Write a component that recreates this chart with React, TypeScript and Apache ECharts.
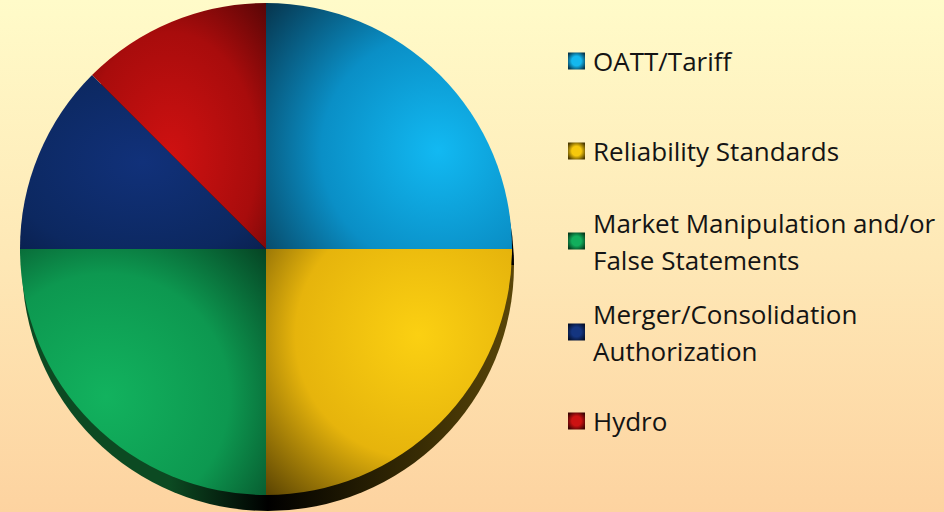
import React, { useEffect, useRef } from 'react';
import * as echarts from 'echarts';

const categories = [
  'OATT/Tariff',
  'Reliability Standards',
  'Market Manipulation and/or False Statements',
  'Merger/Consolidation Authorization',
  'Hydro',
];
const legendLines = [
  ['OATT/Tariff'],
  ['Reliability Standards'],
  ['Market Manipulation and/or', 'False Statements'],
  ['Merger/Consolidation', 'Authorization'],
  ['Hydro'],
];
const values = [4, 4, 4, 2, 2];

// face gradients: [cx, cy, r, bright, mid, dark]
const faceGrad: [number, number, number, string, string, string][] = [
  [0.7, 0.6, 0.95, '#12b9f2', '#0a8fc6', '#062f45'],
  [0.62, 0.35, 1.0, '#fbd012', '#e6b40c', '#362600'],
  [0.35, 0.6, 1.0, '#12b25e', '#0d9850', '#032a16'],
  [0.5, 0.5, 1.1, '#11317a', '#0c2860', '#040f2a'],
  [0.45, 0.62, 1.0, '#cf1111', '#a80c0c', '#300303'],
];
const iconColors = [
  ['#14b8ee', '#06354c'],
  ['#f6c80c', '#4a3800'],
  ['#12ae5c', '#053a1c'],
  ['#143580', '#040f2a'],
  ['#cc1212', '#3a0303'],
];
const rimColors = ['#05344c', '#5a4608', '#0c4a22', '#061538', '#3a0404'];
const iconCenters = [61, 151, 241, 332, 421];

const LINE_H = 37;

export default function App() {
  const ref = useRef<HTMLDivElement>(null);
  useEffect(() => {
    if (!ref.current) return;
    const chart = echarts.init(ref.current, undefined, { renderer: 'svg' });
    const faceColors = faceGrad.map(([x, y, r, a, b, c]) => ({
      type: 'radial', x, y, r, global: false,
      colorStops: [
        { offset: 0, color: a },
        { offset: 0.5, color: b },
        { offset: 1, color: c },
      ],
    }));
    const rimGrad = rimColors.map((c, i) => ({
      type: 'linear', x: 0, y: 0, x2: 1, y2: 0, global: false,
      colorStops: i === 1
        ? [{ offset: 0, color: '#000000' }, { offset: 0.5, color: '#2e2403' }, { offset: 1, color: c }]
        : [{ offset: 0, color: c }, { offset: 0.6, color: c }, { offset: 1, color: '#000000' }],
    }));
    const legends = categories.map((name, i) => {
      const lines = legendLines[i];
      const extra = (lines.length - 1) * LINE_H;
      const half = (lines.length * LINE_H + extra) / 2;
      return {
        data: [
          {
            name,
            itemStyle: {
              color: {
                type: 'radial', x: 0.5, y: 0.5, r: 0.62, global: false,
                colorStops: [
                  { offset: 0, color: iconColors[i][0] },
                  { offset: 0.45, color: iconColors[i][0] },
                  { offset: 1, color: iconColors[i][1] },
                ],
              },
            },
          },
        ],
        left: 568,
        top: iconCenters[i] - half,
        orient: 'vertical',
        padding: 0,
        itemWidth: 17,
        itemHeight: 17,
        icon: 'rect',
        selectedMode: false,
        formatter: () => lines.join('\n'),
        textStyle: {
          fontFamily: 'Open Sans',
          fontSize: 26,
          color: '#141414',
          lineHeight: LINE_H,
          padding: [extra, 0, 0, 3],
        },
      };
    });
    chart.setOption({
      animation: false,
      backgroundColor: 'transparent',
      legend: legends,
      series: [
        {
          type: 'pie',
          z: 3,
          center: [266, 249],
          radius: 246,
          startAngle: 90,
          clockwise: true,
          label: { show: false },
          labelLine: { show: false },
          emphasis: { scale: false },
          itemStyle: { borderWidth: 0 },
          data: categories.map((name, i) => ({
            name,
            value: values[i],
            itemStyle: { color: faceColors[i] },
          })),
        },
        {
          type: 'pie',
          z: 1,
          silent: true,
          legendHoverLink: false,
          center: [268, 265],
          radius: 246,
          startAngle: 90,
          clockwise: true,
          label: { show: false },
          labelLine: { show: false },
          emphasis: { disabled: true },
          itemStyle: { borderWidth: 0 },
          data: categories.map((name, i) => ({
            name,
            value: values[i],
            itemStyle: { color: rimGrad[i] },
          })),
        },
      ],
    });
    return () => chart.dispose();
  }, []);
  return (
    <div
      style={{
        position: 'fixed',
        left: 0,
        top: 0,
        width: 944,
        height: 512,
        background: 'linear-gradient(180deg, #fffbc9 0%, #fee8b6 50%, #fdd3a0 100%)',
      }}
    >
      <div ref={ref} style={{ width: 944, height: 512 }} />
    </div>
  );
}
